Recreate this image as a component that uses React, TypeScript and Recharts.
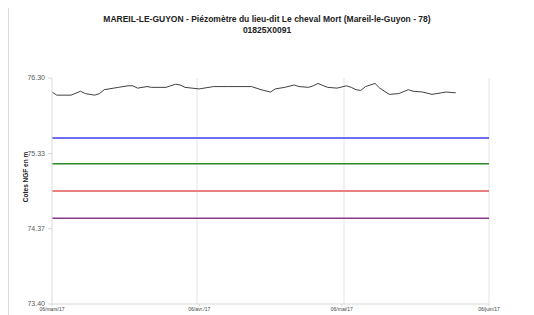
import { LineChart, Line, XAxis, YAxis, CartesianGrid, ReferenceLine } from 'recharts';

// jours depuis le 06/03/2017
const days = [0, 1, 4, 6, 7, 9, 10, 11, 13, 14, 16, 17, 18, 20, 21, 24, 26, 27, 28, 31, 34, 37, 40, 42, 44, 46, 47, 49, 51, 52, 54, 55, 56, 58, 60, 62, 63, 64, 65, 66, 68, 69, 71, 73, 75, 76, 78, 80, 82, 83, 85];
const levels = [76.12, 76.08, 76.08, 76.13, 76.1, 76.08, 76.1, 76.15, 76.17, 76.18, 76.2, 76.2, 76.17, 76.19, 76.18, 76.18, 76.22, 76.21, 76.18, 76.16, 76.19, 76.19, 76.19, 76.19, 76.15, 76.12, 76.16, 76.18, 76.21, 76.19, 76.18, 76.2, 76.23, 76.18, 76.17, 76.2, 76.18, 76.15, 76.14, 76.19, 76.23, 76.17, 76.09, 76.1, 76.15, 76.13, 76.12, 76.09, 76.11, 76.12, 76.11];

const xTicks = [0, 31, 61, 92];
const xTickLabels = ['06/mars/17', '06/avr./17', '06/mai/17', '06/juin/17'];
const yTicks = [73.4, 74.37, 75.33, 76.3];

// seuils
const thresholdValues = [75.53, 75.2, 74.85, 74.5];
const thresholdColors = ['#6e6ef0', '#2a8a2a', '#e88080', '#8a3a8a'];
const thresholdWidths = [2, 1.5, 2, 1.5];

const chartData = days.map((d, i) => ({ day: d, level: levels[i] }));

export default function App() {
  return (
    <div style={{ position: 'relative', width: 534, height: 315, margin: '-8px 0 0 -8px', overflow: 'hidden', background: '#fff', fontFamily: '"Liberation Sans", Arial, sans-serif' }}>
      <div style={{ position: 'absolute', left: 8, top: 3, width: 521, height: 330, border: '1px solid #d9d9d9' }} />
      <div style={{ position: 'absolute', left: 0, top: 14, width: 534, textAlign: 'center', fontSize: 8.5, fontWeight: 'bold', color: '#222', lineHeight: '11px' }}>
        MAREIL-LE-GUYON - Piézomètre du lieu-dit Le cheval Mort (Mareil-le-Guyon - 78)
        <br />
        01825X0091
      </div>
      <div style={{ position: 'absolute', left: 25, top: 177, transform: 'translate(-50%, -50%) rotate(-90deg)', fontSize: 6.5, fontWeight: 'bold', color: '#222', whiteSpace: 'nowrap' }}>
        Cotes NGF en m
      </div>
      <div style={{ position: 'absolute', left: 0, top: 0 }}>
        <LineChart width={534} height={315} data={chartData} margin={{ top: 78, right: 45, bottom: 0, left: 0 }}>
          <CartesianGrid horizontal={false} vertical={true} stroke="#e4e4e4" verticalPoints={[197, 344, 489]} />
          <XAxis
            dataKey="day"
            type="number"
            domain={[0, 92]}
            ticks={xTicks}
            tickFormatter={(v) => xTickLabels[xTicks.indexOf(v)]}
            height={11}
            tick={{ fontSize: 5, fill: '#444' }}
            tickSize={2}
            tickMargin={1}
            stroke="#d9d9d9"
          />
          <YAxis
            type="number"
            domain={[73.4, 76.3]}
            ticks={yTicks}
            tickFormatter={(v) => v.toFixed(2)}
            width={52}
            tick={{ fontSize: 7, fill: '#595959' }}
            tickSize={4}
            tickMargin={3}
            stroke="#d9d9d9"
            allowDataOverflow
          />
          {thresholdValues.map((v, i) => (
            <ReferenceLine key={i} y={v} stroke={thresholdColors[i]} strokeWidth={thresholdWidths[i]} ifOverflow="extendDomain" />
          ))}
          <Line type="linear" dataKey="level" stroke="#404040" strokeWidth={1} dot={false} isAnimationActive={false} />
        </LineChart>
      </div>
    </div>
  );
}
